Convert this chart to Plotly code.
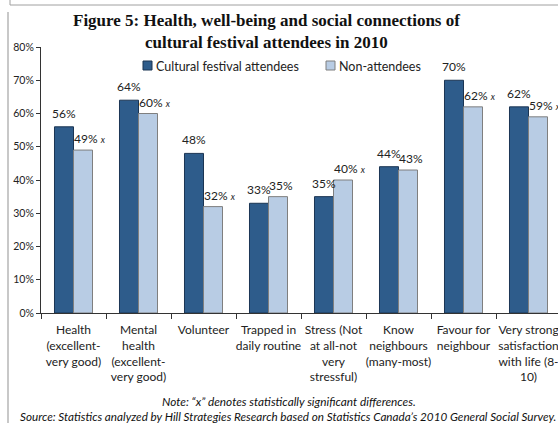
import plotly.graph_objects as go

categories = [
    "Health<br>(excellent-<br>very good)",
    "Mental<br>health<br>(excellent-<br>very good)",
    "Volunteer",
    "Trapped in<br>daily routine",
    "Stress (Not<br>at all-not<br>very<br>stressful)",
    "Know<br>neighbours<br>(many-most)",
    "Favour for<br>neighbour",
    "Very strong<br>satisfaction<br>with life (8-<br>10)",
]
attendees = [56, 64, 48, 33, 35, 44, 70, 62]
non_attendees = [49, 60, 32, 35, 40, 43, 62, 59]
significant = [True, True, True, False, True, False, True, True]
series_names = ["Cultural festival attendees", "Non-attendees"]
y_ticks = [0, 10, 20, 30, 40, 50, 60, 70, 80]
y_tick_labels = [f"{v}%" for v in y_ticks]

DARK = "#2E5C8B"
DARK_LINE = "#1B3553"
LIGHT = "#B8CCE4"
LIGHT_LINE = "#7F7F7F"
FONT = "Lato"

W, H = 558, 423
L, T, B = 41, 47, 110
plot_w = W - L
plot_h = H - T - B


def px(x):
    return (x - L) / plot_w


def py(y):
    return (H - B - y) / plot_h


fig = go.Figure()
fig.add_trace(go.Bar(x=categories, y=attendees, name=series_names[0],
                     marker=dict(color=DARK, line=dict(color=DARK_LINE, width=1)),
                     showlegend=False))
fig.add_trace(go.Bar(x=categories, y=non_attendees, name=series_names[1],
                     marker=dict(color=LIGHT, line=dict(color=LIGHT_LINE, width=1)),
                     showlegend=False))

annotations = []
for c, a, n, s in zip(categories, attendees, non_attendees, significant):
    annotations.append(dict(x=c, y=a, xref="x", yref="y", text=f"{a}%",
                            showarrow=False, xanchor="center", yanchor="bottom",
                            xshift=-9.5, yshift=4,
                            font=dict(family=FONT, size=12, color="#222")))
    txt = f"{n}%" + (" <i><span style='font-size:9px'>x</span></i>" if s else "")
    annotations.append(dict(x=c, y=n, xref="x", yref="y", text=txt,
                            showarrow=False, xanchor="left", yanchor="bottom",
                            xshift=-2, yshift=2,
                            font=dict(family=FONT, size=12, color="#222")))

# legend (manual)
leg = [(143, series_names[0], DARK, DARK_LINE), (326, series_names[1], LIGHT, LIGHT_LINE)]
shapes = []
for x0, name, col, lc in leg:
    shapes.append(dict(type="rect", xref="paper", yref="paper",
                       x0=px(x0), x1=px(x0 + 9), y0=py(70), y1=py(61),
                       fillcolor=col, line=dict(color=lc, width=1)))
    annotations.append(dict(x=px(x0 + 11), y=py(66), xref="paper", yref="paper",
                            text=name, showarrow=False, xanchor="left", yanchor="middle",
                            font=dict(family=FONT, size=12.5, color="#222")))

# title
for text, yc in [("Figure 5: Health, well-being and social connections of", 21),
                 ("cultural festival attendees in 2010", 43)]:
    annotations.append(dict(x=px(266), y=py(yc), xref="paper", yref="paper",
                            text=f"<b>{text}</b>", showarrow=False,
                            xanchor="center", yanchor="middle",
                            font=dict(family="Liberation Serif", size=17, color="#111")))

# notes
annotations.append(dict(x=px(289), y=py(401), xref="paper", yref="paper",
                        text="<i>Note: “x” denotes statistically significant differences.</i>",
                        showarrow=False, xanchor="center", yanchor="middle",
                        font=dict(family=FONT, size=11.8, color="#111")))
annotations.append(dict(x=px(288), y=py(416), xref="paper", yref="paper",
                        text="<i>Source: Statistics analyzed by Hill Strategies Research based on Statistics Canada’s 2010 General Social Survey.</i>",
                        showarrow=False, xanchor="center", yanchor="middle",
                        font=dict(family=FONT, size=11.7, color="#111")))

# page borders
shapes.append(dict(type="line", xref="paper", yref="paper", x0=px(8), x1=px(8),
                   y0=py(12), y1=py(423), line=dict(color="#C8C8C8", width=2)))
shapes.append(dict(type="line", xref="paper", yref="paper", x0=px(10), x1=px(560),
                   y0=py(5), y1=py(5), line=dict(color="#A0A0A0", width=1)))
shapes.append(dict(type="line", xref="paper", yref="paper", x0=px(10), x1=px(10),
                   y0=py(0), y1=py(5), line=dict(color="#A0A0A0", width=1)))

fig.update_layout(
    width=W, height=H,
    margin=dict(l=L, r=0, t=T, b=B, pad=0, autoexpand=False),
    paper_bgcolor="white", plot_bgcolor="white",
    barmode="group", bargap=0.415, bargroupgap=0,
    annotations=annotations,
    shapes=shapes,
    font=dict(family=FONT, size=11, color="#222"),
)
fig.update_xaxes(range=[-0.5, -0.5 + plot_w / 65], showline=True, linecolor="#333",
                 linewidth=1, ticks="outside", tickson="boundaries", ticklen=5,
                 tickcolor="#333", tickfont=dict(family=FONT, size=12, color="#222"),
                 ticklabelstandoff=6,
                 tickangle=0, automargin=False, showgrid=False)
fig.update_yaxes(range=[0, 80], tickvals=y_ticks, ticktext=y_tick_labels, showline=True,
                 linecolor="#333", linewidth=1, ticks="outside", ticklen=4,
                 tickcolor="#333", tickfont=dict(family=FONT, size=10.5, color="#222"),
                 automargin=False, showgrid=False, zeroline=False)

fig.write_html("out.html", config={"displayModeBar": False},
               post_script="document.body.style.margin='0';document.body.style.overflow='hidden';")
